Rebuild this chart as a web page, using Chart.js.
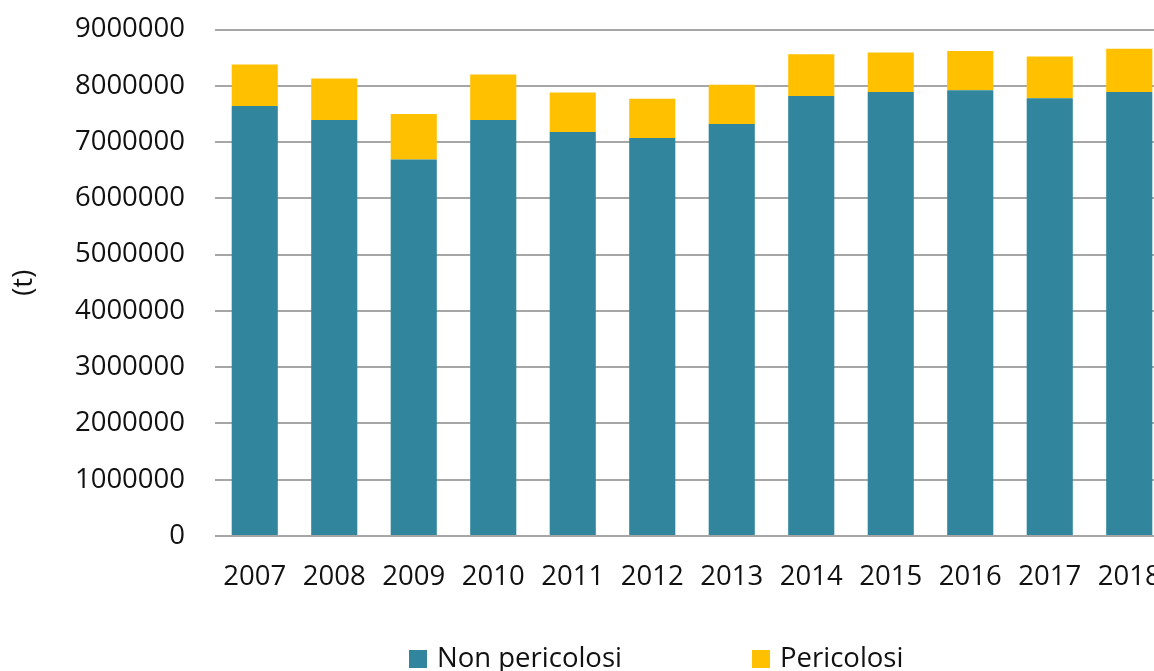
<!DOCTYPE html>
<html>
<head>
<meta charset="utf-8">
<script src="https://cdn.jsdelivr.net/npm/chart.js@4/dist/chart.umd.min.js"></script>
<style>
  html, body { margin: 0; padding: 0; background: #fff; overflow: hidden; }
  #wrap { position: relative; width: 1169px; height: 671px; }
  .legend { position: absolute; top: 641px; font: 27.5px "Open Sans", sans-serif; color: #111; line-height: 32px; white-space: nowrap; }
  .legend i { display: inline-block; width: 18px; height: 18px; margin-right: 10px; vertical-align: -1px; }
</style>
</head>
<body>
<div id="wrap">
  <canvas id="rifiuti" width="1169" height="671"></canvas>
  <div class="legend" style="left:409px"><i style="background:#31859c"></i>Non pericolosi</div>
  <div class="legend" style="left:752px"><i style="background:#ffc000"></i>Pericolosi</div>
</div>
<script>
// --- dati (tonnellate) ---
const ANNI = ['2007', '2008', '2009', '2010', '2011', '2012', '2013', '2014', '2015', '2016', '2017', '2018'];
const NON_PERICOLOSI = [7640000, 7390000, 6690000, 7390000, 7180000, 7070000, 7320000, 7820000, 7890000, 7920000, 7780000, 7890000];
const PERICOLOSI = [740000, 740000, 810000, 810000, 700000, 700000, 700000, 740000, 700000, 700000, 740000, 770000];
const Y_MIN = 0, Y_MAX = 9000000, Y_STEP = 1000000;

const FONT = { family: '"Open Sans", sans-serif', size: 27.5 };
const TESTO = '#111';

new Chart(document.getElementById('rifiuti'), {
    type: 'bar',
    data: {
        labels: ANNI,
        datasets: [
            { label: 'Non pericolosi', data: NON_PERICOLOSI, backgroundColor: '#31859c' },
            { label: 'Pericolosi', data: PERICOLOSI, backgroundColor: '#ffc000' }
        ]
    },
    options: {
        responsive: false,
        animation: false,
        layout: { padding: { top: 29.5, left: 0, right: 0, bottom: 0 } },
        datasets: { bar: { categoryPercentage: 1, barPercentage: 0.58 } },
        plugins: { legend: { display: false }, tooltip: { enabled: false } },
        scales: {
            x: {
                stacked: true,
                grid: { display: false, drawTicks: false },
                border: { display: false },
                ticks: { color: TESTO, font: FONT, padding: 25, maxRotation: 0, autoSkip: false },
                afterFit: (s) => {
                    s.height = 135;
                    s.paddingLeft = 0;
                    s.paddingRight = 0;
                }
            },
            y: {
                stacked: true,
                min: Y_MIN,
                max: Y_MAX,
                grid: { color: '#a6a6a6', lineWidth: 2, drawTicks: false },
                border: { display: false },
                ticks: { stepSize: Y_STEP, color: TESTO, font: FONT, padding: 30, callback: (v) => String(v) },
                title: { display: true, text: '(t)', color: TESTO, font: FONT, padding: { top: 8, bottom: 0 } },
                afterFit: (s) => {
                    s.width = 215;
                    s.paddingTop = 0;
                    s.paddingBottom = 0;
                }
            }
        }
    }
});
</script>
</body>
</html>
